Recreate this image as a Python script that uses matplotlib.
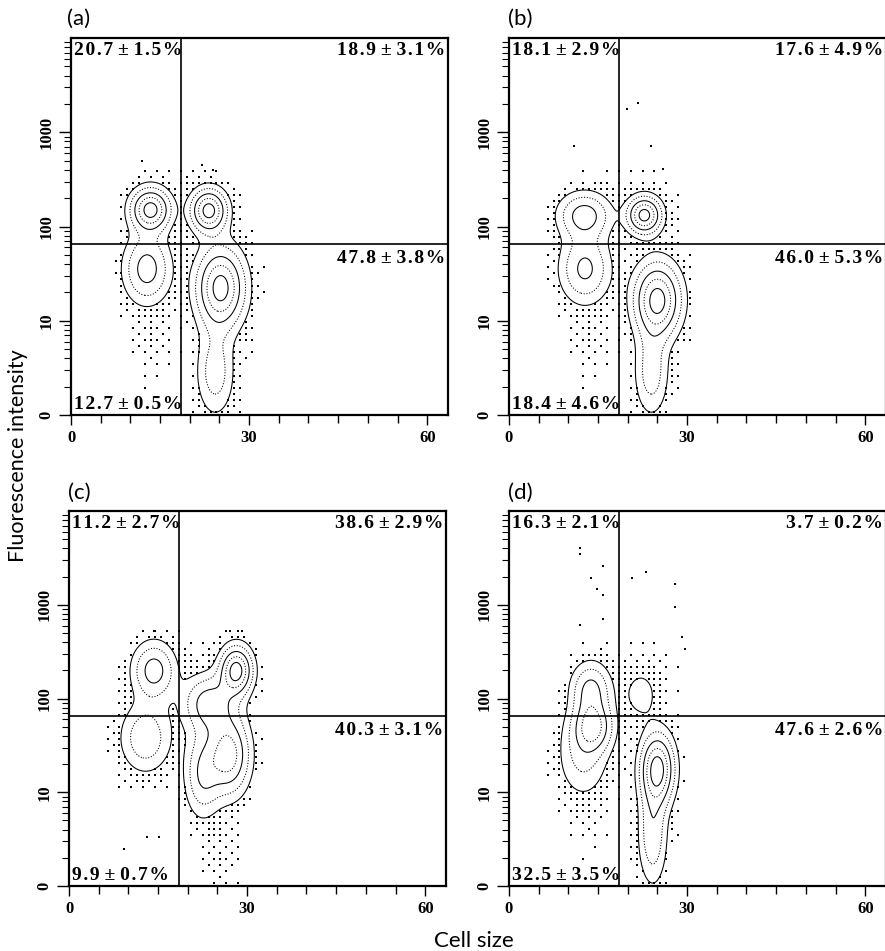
import numpy as np
import matplotlib
matplotlib.use("Agg")
import matplotlib.pyplot as plt
from matplotlib.ticker import FixedLocator, NullFormatter

# ---------------- data ----------------
# Each population: (cell size centre, log10 fluorescence centre, sd size, sd log10, relative weight)
pops_a = [(13.4, 2.18, 2.2, 0.15, 1.00), (23.2, 2.17, 2.0, 0.15, 1.00),
          (12.8, 1.55, 2.6, 0.24, 0.60), (25.2, 1.35, 2.7, 0.28, 1.00),
          (24.3, 0.45, 2.1, 0.30, 0.40)]
pops_b = [(12.7, 2.12, 2.9, 0.16, 0.60), (22.8, 2.12, 1.9, 0.13, 1.00),
          (12.8, 1.55, 2.8, 0.24, 0.55), (25.0, 1.22, 2.6, 0.26, 1.00),
          (24.0, 0.45, 1.9, 0.30, 0.40)]
pops_c = [(14.3, 2.30, 2.4, 0.20, 0.60), (28.2, 2.30, 1.8, 0.17, 1.00),
          (23.5, 1.95, 2.8, 0.20, 0.60), (12.9, 1.58, 2.8, 0.24, 0.45),
          (27.0, 1.40, 2.3, 0.28, 0.80), (22.5, 1.20, 2.0, 0.30, 0.50)]
pops_d = [(13.8, 2.10, 2.2, 0.19, 0.55), (14.2, 1.70, 2.2, 0.17, 0.65),
          (12.5, 1.40, 2.8, 0.30, 0.35), (22.2, 2.05, 2.1, 0.19, 0.22),
          (25.0, 1.25, 1.9, 0.25, 1.00), (24.2, 0.55, 1.6, 0.35, 0.45)]

# sparse background populations (appear only as dot display)
bg_a = [(13.5, 0.90, 3.0, 0.45, 0.10), (26.0, 1.20, 3.5, 0.80, 0.08), (18.0, 2.20, 6.0, 0.30, 0.10)]
bg_b = [(13.5, 0.90, 3.0, 0.45, 0.10), (25.5, 1.20, 3.5, 0.80, 0.08), (18.0, 2.20, 6.0, 0.30, 0.10)]
bg_c = [(25.5, 0.35, 3.0, 0.35, 0.10), (12.5, 1.60, 3.2, 0.45, 0.10), (20.0, 2.30, 6.0, 0.30, 0.08)]
bg_d = [(13.0, 1.20, 3.2, 0.60, 0.10), (24.0, 1.30, 3.5, 0.80, 0.07), (20.0, 2.20, 5.0, 0.30, 0.08)]

# isolated events (cell size, fluorescence)
events_a = [(12.0, 500.0), (22.0, 450.0), (24.0, 400.0)]
events_b = [(10.9, 720.0), (19.8, 1780.0), (21.8, 2040.0), (23.9, 720.0), (25.9, 410.0)]
events_c = [(14.3, 520.0), (27.2, 520.0), (29.2, 520.0), (9.2, 2.5), (13.1, 3.3), (15.1, 3.3)]
events_d = [(11.9, 4070.0), (11.9, 3470.0), (15.9, 2570.0), (13.8, 1950.0), (14.9, 1480.0),
            (15.9, 1260.0), (20.8, 1950.0), (23.0, 2240.0), (28.0, 1660.0), (28.0, 955.0),
            (29.1, 457.0), (29.7, 339.0), (11.9, 603.0), (15.9, 708.0)]

quad_labels_a = ["20.7 ± 1.5%", "18.9 ± 3.1%", "47.8 ± 3.8%", "12.7 ± 0.5%"]
quad_labels_b = ["18.1 ± 2.9%", "17.6 ± 4.9%", "46.0 ± 5.3%", "18.4 ± 4.6%"]
quad_labels_c = ["11.2 ± 2.7%", "38.6 ± 2.9%", "40.3 ± 3.1%", "9.9 ± 0.7%"]
quad_labels_d = ["16.3 ± 2.1%", "3.7 ± 0.2%", "47.6 ± 2.6%", "32.5 ± 3.5%"]

panel_names = ["(a)", "(b)", "(c)", "(d)"]
gate_x = 18.5
gate_y = 65.0
contour_levels = [0.15, 0.30, 0.50, 0.70, 0.90]
contour_styles = ['-', ':', '-', ':', '-']
dot_level = 0.025
x_ticks_major = [0, 30, 60]
x_ticks_minor = [5, 10, 15, 20, 25, 35, 40, 45, 50, 55]
y_ticks = [1, 10, 100, 1000]
y_tick_labels = ["0", "10", "100", "1000"]

# ---------------- drawing ----------------
SERIF = "Liberation Serif"
SANS = "Lato"

BAYER = (np.array([[0, 8, 2, 10], [12, 4, 14, 6], [3, 11, 1, 9], [15, 7, 13, 5]]) + 0.5) / 16.0


def density(pops, X, U):
    Z = np.zeros_like(X, dtype=float)
    for cx, cu, sx, su, w in pops:
        Z += w * np.exp(-0.5 * (((X - cx) / sx) ** 2 + ((U - cu) / su) ** 2))
    return Z


def spaced(s):
    out = ""
    for k, ch in enumerate(s):
        out += ch
        if k + 1 < len(s) and ch != " " and s[k + 1] != " ":
            out += "\u200a"
    return out


fig = plt.figure(figsize=(8.85, 9.51), dpi=100)
W, H = 885.0, 951.0
rects = [(71, 415, 377, 377), (509, 415, 377, 377), (69, 886, 377, 375), (509, 886, 377, 375)]
label_pos = [(67, 19), (508, 19), (68, 493), (508, 493)]

panels = [(pops_a, bg_a, events_a, quad_labels_a),
          (pops_b, bg_b, events_b, quad_labels_b),
          (pops_c, bg_c, events_c, quad_labels_c),
          (pops_d, bg_d, events_d, quad_labels_d)]

xg = np.linspace(0, 63.5, 420)
ug = np.linspace(0, 4, 360)
XG, UG = np.meshgrid(xg, ug)

xd = np.arange(0.5, 63.5, 1.0)
ud = np.arange(0.03, 4.0, 0.064)
XD, UD = np.meshgrid(xd, ud)
II, JJ = np.meshgrid(np.arange(len(xd)), np.arange(len(ud)))
THR = BAYER[JJ % 4, II % 4]

for i, (pops, bg, events, qlabels) in enumerate(panels):
    l, b, w, h = rects[i]
    ax = fig.add_axes([l / W, (H - b) / H, w / W, h / H])
    ax.set_xlim(0, 63.5)
    ax.set_ylim(1, 1e4)
    ax.set_yscale('log')

    Zc = density(pops, XG, UG)
    ax.contour(XG, 10 ** UG, Zc, levels=contour_levels, colors='black',
               linewidths=0.75, linestyles=contour_styles)

    Zp = density(pops, XD, UD)
    Zd = Zp + density(bg, XD, UD)
    frac = np.clip((Zd - dot_level) / (contour_levels[0] - dot_level), 0, 1) * 1.0
    mask = (Zd > dot_level) & (frac > THR) & (Zp < contour_levels[0])
    ax.scatter(XD[mask], 10 ** UD[mask], s=1.6, c='black', marker='s', linewidths=0)
    ex = [e[0] for e in events]
    ey = [e[1] for e in events]
    ax.scatter(ex, ey, s=1.6, c='black', marker='s', linewidths=0)

    ax.axvline(gate_x, color='black', lw=1.2)
    ax.axhline(gate_y, color='black', lw=1.2)

    for sp in ax.spines.values():
        sp.set_linewidth(1.6)

    ax.xaxis.set_major_locator(FixedLocator(x_ticks_major))
    ax.xaxis.set_minor_locator(FixedLocator(x_ticks_minor))
    ax.set_xticklabels([str(v) for v in x_ticks_major])
    ax.yaxis.set_major_locator(FixedLocator(y_ticks))
    ax.set_yticklabels(y_tick_labels)
    ax.yaxis.set_minor_formatter(NullFormatter())
    ax.tick_params(axis='x', which='major', length=7, width=1.0, pad=4, direction='out')
    ax.tick_params(axis='x', which='minor', length=5.5, width=1.0, direction='out')
    ax.tick_params(axis='y', which='major', length=9, width=1.0, pad=3, direction='out')
    ax.tick_params(axis='y', which='minor', length=5, width=0.8, direction='out')
    for t in ax.get_xticklabels():
        t.set_fontfamily(SERIF); t.set_fontweight('bold'); t.set_fontsize(12)
    for t in ax.get_yticklabels():
        t.set_fontfamily(SERIF); t.set_fontweight('bold'); t.set_fontsize(12)
        t.set_rotation(90); t.set_va('center')

    qkw = dict(fontfamily=SERIF, fontweight='bold', fontsize=14, color='black')
    ax.text(0.008, 0.99, spaced(qlabels[0]), transform=ax.transAxes, ha='left', va='top', **qkw)
    ax.text(0.992, 0.99, spaced(qlabels[1]), transform=ax.transAxes, ha='right', va='top', **qkw)
    ax.annotate(spaced(qlabels[2]), xy=(0.992, gate_y), xycoords=('axes fraction', 'data'),
                xytext=(0, -4), textcoords='offset points', ha='right', va='top', **qkw)
    ax.text(0.008, 0.004, spaced(qlabels[3]), transform=ax.transAxes, ha='left', va='bottom', **qkw)

    lx, ly = label_pos[i]
    fig.text(lx / W, 1 - ly / H, panel_names[i], fontfamily=SANS, fontsize=16,
             ha='left', va='center')

fig.text(18 / W, 1 - 456 / H, "Fluorescence intensity", rotation=90, fontfamily=SANS,
         fontsize=15.5, ha='center', va='center')
fig.text(474 / W, 1 - 941 / H, "Cell size", fontfamily=SANS, fontsize=16,
         ha='center', va='center')

fig.savefig("out.png", dpi=100)
